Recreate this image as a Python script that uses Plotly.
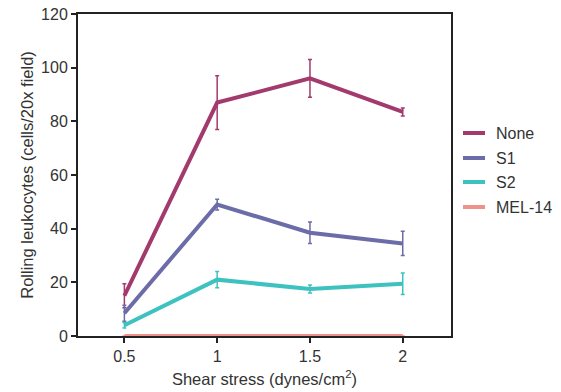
import plotly.graph_objects as go

shear = [0.5, 1, 1.5, 2]
series_names = ["None", "S1", "S2", "MEL-14"]
none_vals = [15, 87, 96, 83.5]
none_err = [4.5, 10, 7, 1.5]
s1_vals = [8.5, 49, 38.5, 34.5]
s1_err = [3, 2, 4, 4.5]
s2_vals = [4, 21, 17.5, 19.5]
s2_err = [1, 3, 1.5, 4]
mel_vals = [0, 0, 0, 0]
mel_err = [0, 0, 0, 0]
colors = ["#A33A6E", "#6C6CA8", "#3EC2C0", "#F0928C"]

W, H = 561, 392
L, R, T, B = 78, 110, 14, 56
pw, ph = W - L - R, H - T - B

fig = go.Figure()
for name, vals, errs, col in zip(series_names,
                                 [none_vals, s1_vals, s2_vals, mel_vals],
                                 [none_err, s1_err, s2_err, mel_err],
                                 colors):
    fig.add_trace(go.Scatter(
        x=shear, y=vals, name=name, mode="lines",
        line=dict(color=col, width=4),
        error_y=dict(type="data", array=errs, visible=True, color=col,
                     thickness=1.5, width=2),
        cliponaxis=False, showlegend=False,
    ))

# custom legend (short line swatches like the reference)
leg_y = [133, 158, 182, 207]
for name, col, py in zip(series_names, colors, leg_y):
    yp = (H - B - py) / ph
    fig.add_shape(type="line", xref="paper", yref="paper",
                  x0=(463 - L) / pw, x1=(485 - L) / pw, y0=yp, y1=yp,
                  line=dict(color=col, width=4))
    fig.add_annotation(xref="paper", yref="paper", x=(494 - L) / pw, y=yp,
                       text=name, showarrow=False, xanchor="left", yanchor="middle",
                       font=dict(size=16, color="#333333"))

fig.update_layout(
    width=W, height=H,
    margin=dict(l=L, r=R, t=T, b=B, autoexpand=False),
    paper_bgcolor="white", plot_bgcolor="white",
    font=dict(family="Liberation Sans, Arial, sans-serif", size=16, color="#333333"),
    showlegend=False,
    xaxis=dict(range=[0.25, 2.26], tickvals=shear, ticktext=["0.5", "1", "1.5", "2"],
               showgrid=False, zeroline=False, showline=True, linecolor="#222222",
               linewidth=2, mirror=True, ticks="outside", ticklen=5,
               tickcolor="#222222", tickwidth=1.5, automargin=False,
               tickfont=dict(size=16),
               title=dict(text="Shear stress (dynes/cm<sup>2</sup>)", standoff=9,
                          font=dict(size=16.5))),
    yaxis=dict(range=[0, 120], tickvals=[0, 20, 40, 60, 80, 100, 120],
               showgrid=False, zeroline=False, showline=True, linecolor="#222222",
               linewidth=2, mirror=True, ticks="outside", ticklen=5,
               tickcolor="#222222", tickwidth=1.5, automargin=False,
               tickfont=dict(size=16),
               title=dict(text="Rolling leukocytes (cells/20x field)", standoff=3,
                          font=dict(size=16.5))),
)

fig.write_html("out.html", config={"displayModeBar": False},
               post_script="document.body.style.margin='0';document.body.style.padding='0';")
